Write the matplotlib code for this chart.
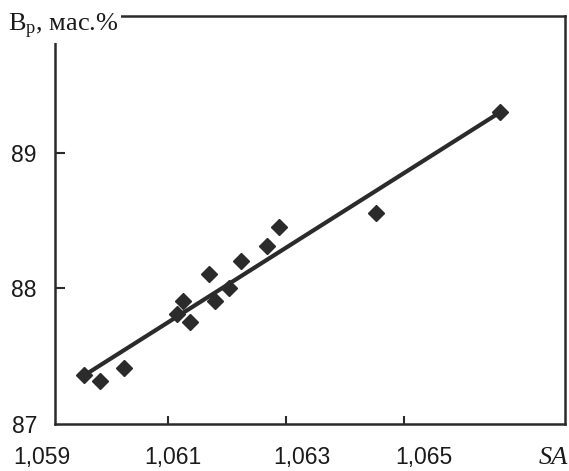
import numpy as np
import matplotlib.pyplot as plt

plt.rcParams['mathtext.fontset'] = 'custom'
plt.rcParams['mathtext.rm'] = 'Liberation Serif'
plt.rcParams['mathtext.it'] = 'Liberation Serif:italic'

# values
sa = [1.05958, 1.05985, 1.06025, 1.06115, 1.06125, 1.06137, 1.06170,
      1.06180, 1.06203, 1.06224, 1.06268, 1.06288, 1.06453, 1.06663]
bp = [87.36, 87.32, 87.41, 87.81, 87.91, 87.75, 88.11,
      87.91, 88.00, 88.20, 88.31, 88.45, 88.56, 89.30]

# straight line drawn through the data (end points)
line_sa = [1.05958, 1.06663]
line_bp = [87.36, 89.30]

x_ticks = [1.061, 1.063, 1.065]
x_labels = ['1,059', '1,061', '1,063', '1,065']
# in the scan the labels are printed slightly off their tick marks
x_label_pos = [1.05886, 1.06108, 1.06327, 1.06534]
y_ticks = [87, 88, 89]

ink = '#2b2b2b'
txt = '#1a1a1a'

fig = plt.figure(figsize=(5.69, 4.71), dpi=100)
ax = fig.add_axes([55/569, 1 - 424/471, 510/569, 408/471])

ax.plot(line_sa, line_bp, color=ink, lw=3, solid_capstyle='butt', zorder=2)
ax.plot(sa, bp, 'D', color=ink, markersize=8, zorder=3)

ax.set_xlim(1.05908, 1.06773)
ax.set_ylim(87, 90.01)

ax.set_xticks(x_ticks)
ax.set_xticklabels([])
ax.tick_params(axis='x', direction='in', length=6, width=1.5, color=ink)
ax.set_yticks(y_ticks)
ax.set_yticklabels([str(v) for v in y_ticks], fontsize=16.5,
                   family='Liberation Sans', color=txt)
ax.tick_params(axis='y', direction='in', length=7, width=1.5, color=ink, pad=13)
ax.yaxis.get_major_ticks()[0].tick1line.set_visible(False)

for pos, lab in zip(x_label_pos, x_labels):
    ax.text(pos, -0.055, lab, transform=ax.get_xaxis_transform(),
            ha='center', va='top', fontsize=16.5, family='Liberation Sans',
            color=txt)

for s in ax.spines.values():
    s.set_linewidth(1.8)
    s.set_color(ink)

fig.text(553/569, 1 - 458/471, 'SA', ha='center', va='center', fontsize=19,
         family='Liberation Serif', style='italic', color=txt)
fig.text(8/569, 1 - 31/471, 'В$_{\\mathrm{р}}$, мас.%', ha='left', va='baseline',
         fontsize=19, family='Liberation Serif', color=txt,
         bbox=dict(facecolor='white', edgecolor='none', pad=1.5))

fig.savefig('out.png', dpi=100, facecolor='white')
